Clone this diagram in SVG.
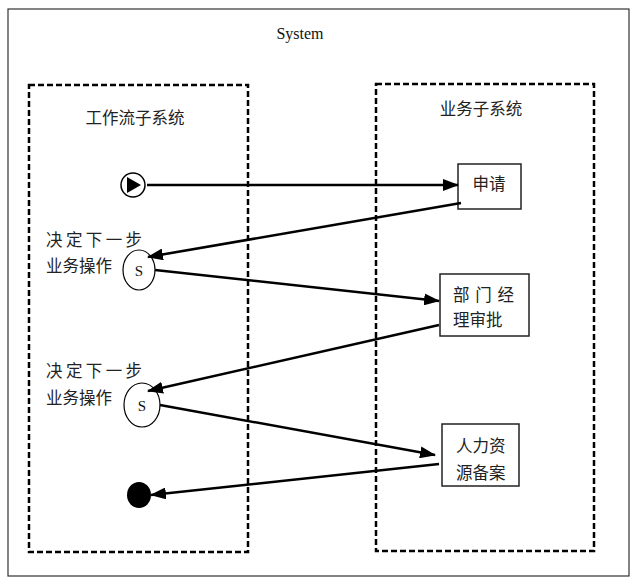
<svg xmlns="http://www.w3.org/2000/svg" width="638" height="585" viewBox="0 0 638 585">
<style>
.cjk{font-family:"Noto Sans CJK SC","Noto Sans",sans-serif;font-size:16.5px;fill:#222}
.ser{font-family:"Liberation Serif",serif;fill:#111}
.dash{fill:none;stroke:#000;stroke-width:2.5;stroke-dasharray:6 3}
.box{fill:#fff;stroke:#222;stroke-width:1.5}
.conn{fill:none;stroke:#000;stroke-width:2.5}
</style>
<defs>
<marker id="ah" markerUnits="userSpaceOnUse" markerWidth="16" markerHeight="12" refX="15" refY="6" orient="auto">
<path d="M0,0 L16,6 L0,12 Z" fill="#000"/>
</marker>
</defs>
<rect width="638" height="585" fill="#fff"/>
<g id="system">
<rect x="8" y="9" width="621" height="567" fill="none" stroke="#333" stroke-width="1.2"/>
<text class="ser" x="300" y="39" font-size="16" text-anchor="middle">System</text>
</g>
<g id="workflow">
<rect class="dash" x="29" y="85" width="219" height="467"/>
<text class="cjk" x="135" y="124" text-anchor="middle">工作流子系统</text>
</g>
<g id="business">
<rect class="dash" x="376" y="84" width="218" height="467"/>
<text class="cjk" x="481" y="115" text-anchor="middle">业务子系统</text>
</g>
<g id="start">
<circle cx="133" cy="185" r="12" fill="#fff" stroke="#000" stroke-width="1.5"/>
<path d="M127,177 L141,185 L127,193 Z" fill="#000"/>
</g>
<g id="apply">
<rect class="box" x="458" y="164" width="63" height="45"/>
<text class="cjk" x="489" y="190" text-anchor="middle">申请</text>
</g>
<g id="s1">
<text class="cjk" x="46" y="246" textLength="96" lengthAdjust="spacing">决定下一步</text>
<text class="cjk" x="46" y="272">业务操作</text>
<ellipse cx="139" cy="270" rx="16" ry="20" fill="#fff" stroke="#000" stroke-width="1.2"/>
<text class="ser" x="139" y="276" font-size="15" text-anchor="middle">S</text>
</g>
<g id="manager">
<rect class="box" x="440" y="274" width="89" height="62"/>
<text class="cjk" x="453" y="301" textLength="61" lengthAdjust="spacing">部门经</text>
<text class="cjk" x="453" y="326">理审批</text>
</g>
<g id="s2">
<text class="cjk" x="46" y="377" textLength="96" lengthAdjust="spacing">决定下一步</text>
<text class="cjk" x="46" y="404">业务操作</text>
<ellipse cx="142" cy="405" rx="18" ry="22" fill="#fff" stroke="#000" stroke-width="1.2"/>
<text class="ser" x="142" y="411" font-size="15" text-anchor="middle">S</text>
</g>
<g id="hr">
<rect class="box" x="442" y="424" width="77" height="62"/>
<text class="cjk" x="456" y="452">人力资</text>
<text class="cjk" x="456" y="479">源备案</text>
</g>
<g id="end">
<ellipse cx="139" cy="495" rx="12" ry="13" fill="#000"/>
</g>
<g id="connectors">
<line class="conn" x1="147" y1="185" x2="458" y2="185" marker-end="url(#ah)"/>
<line class="conn" x1="461" y1="203" x2="148" y2="257" marker-end="url(#ah)"/>
<line class="conn" x1="155" y1="270" x2="439" y2="301" marker-end="url(#ah)"/>
<line class="conn" x1="439" y1="325" x2="148" y2="391" marker-end="url(#ah)"/>
<line class="conn" x1="160" y1="405" x2="435" y2="455" marker-end="url(#ah)"/>
<line class="conn" x1="439" y1="464" x2="151" y2="495" marker-end="url(#ah)"/>
</g>
</svg>
